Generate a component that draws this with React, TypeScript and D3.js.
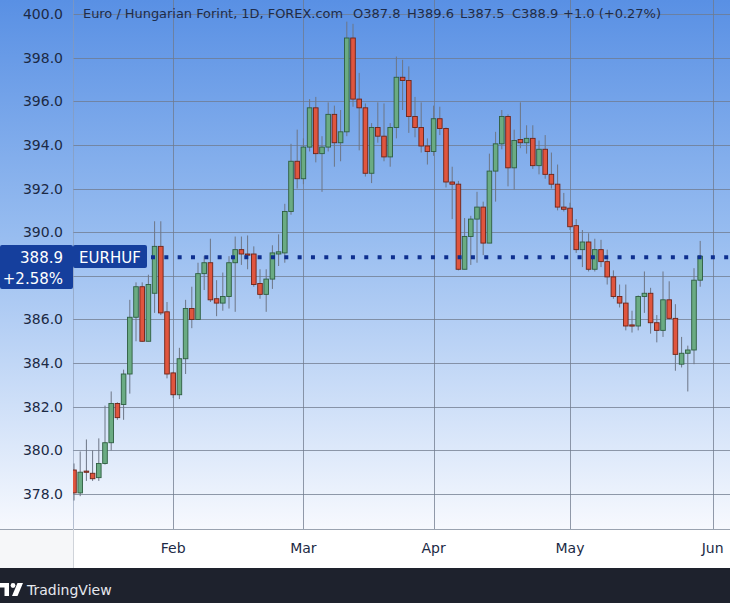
import React, { useEffect } from "react";
import * as d3 from "d3";

const W = 730;
const H = 603;

// OHLC per daily candle (EUR/HUF, mid-Jan .. end of May)
const opens = [379.1,378.05,379.05,378.95,378.75,379.4,380.35,382.15,382.1,383.5,386.1,387.5,385.0,387.2,389.35,386.35,383.55,382.55,384.2,386.5,386.0,388.1,388.6,386.95,386.75,387.05,388.6,389.2,389.0,389.0,387.65,387.15,387.85,389.0,389.05,390.95,393.25,392.45,393.9,395.7,393.6,393.9,395.4,394.1,394.6,398.9,396.1,395.7,392.7,394.8,394.4,393.45,394.8,397.1,396.95,395.3,394.8,393.95,393.7,395.2,394.75,392.3,392.2,388.3,389.8,390.6,391.15,389.5,392.8,394.05,395.3,392.95,394.25,394.1,394.3,393.05,393.8,392.65,392.2,391.15,391.1,390.3,389.2,389.55,388.3,389.2,388.65,387.95,387.05,386.75,385.75,385.7,387.05,387.2,385.85,385.5,386.9,386.05,383.95,384.45,384.6,387.8];
const highs = [379.4,379.95,380.5,380.0,380.55,382.05,382.7,382.2,383.7,386.9,387.7,387.7,388.05,390.5,390.5,386.8,383.6,384.7,386.9,387.5,388.6,388.9,389.7,387.8,388.15,388.9,389.8,389.8,389.85,389.35,388.3,388.3,389.4,389.9,391.3,394.05,394.7,394.3,396.1,396.2,394.4,395.95,395.8,395.6,399.65,399.55,397.3,395.9,395.0,395.95,395.9,395.0,398.05,397.9,397.6,396.2,395.95,394.3,395.8,395.75,394.8,393.0,392.35,390.65,390.75,391.85,391.4,393.6,394.6,395.6,395.4,394.7,395.95,394.9,394.9,394.2,394.45,393.65,393.1,391.8,391.35,390.6,390.1,389.95,389.7,389.65,389.2,388.25,387.6,387.6,386.4,387.1,388.2,387.45,386.2,388.2,387.75,386.7,385.2,384.8,388.35,389.6];
const lows = [377.7,377.9,378.6,378.6,378.6,379.35,380.0,381.4,381.4,382.6,385.0,384.97,385.0,386.3,386.2,383.3,382.4,382.35,383.5,385.6,386.0,387.35,386.8,386.15,386.4,386.5,386.35,388.5,388.3,387.5,386.95,386.35,387.4,388.45,388.6,390.8,392.0,392.2,393.7,393.2,391.85,393.7,393.0,393.25,394.4,395.75,393.75,392.55,392.25,394.1,393.25,393.0,394.3,395.6,394.55,394.35,393.65,393.1,393.5,394.45,392.05,390.6,388.25,388.3,388.5,388.6,388.95,389.5,391.4,393.8,392.1,391.95,393.85,393.6,392.9,392.65,392.45,392.0,391.0,390.95,390.1,389.05,388.4,388.2,388.2,388.4,387.6,386.95,386.55,385.5,385.4,385.5,386.3,385.35,384.95,385.2,386.0,383.65,383.8,382.7,383.95,387.5];
const closes = [378.05,379.0,379.0,378.7,379.4,380.35,382.15,381.5,383.5,386.1,387.5,385.0,387.6,389.35,386.3,383.5,382.55,384.2,386.5,386.0,388.1,388.6,386.9,386.75,387.05,388.6,389.2,389.0,388.95,387.6,387.15,387.85,389.05,389.1,390.95,393.25,392.45,393.9,395.7,393.6,393.9,395.4,394.1,394.6,398.9,396.1,395.7,392.7,394.8,394.4,393.45,394.8,397.1,396.95,395.3,394.8,393.95,393.7,395.2,394.75,392.3,392.2,388.3,389.8,390.6,391.15,389.5,392.8,394.05,395.3,392.95,394.2,394.1,394.3,393.05,393.8,392.65,392.2,391.15,391.05,390.25,389.2,389.55,388.3,389.2,388.65,387.95,387.05,386.75,385.7,385.7,387.05,387.2,385.85,385.5,386.9,386.05,384.4,384.45,384.6,387.8,388.9];

const priceTicks = d3.range(378, 400.001, 2);
const monthLabels = ["Feb", "Mar", "Apr", "May", "Jun"];
const monthIndex = [16, 37, 58, 80, 103];

const lastPrice = 388.9;
const symbol = "EURHUF";
const changePct = "+2.58%";
const titleMain = "Euro / Hungarian Forint, 1D, FOREX.com";
const titleParts = ["O387.8", "H389.6", "L387.5", "C388.9", "+1.0 (+0.27%)"];

const PLOT_L = 73;
const PLOT_B = 529;

export default function App() {
  useEffect(() => {
    document.body.style.margin = "0";
  }, []);

  const x = d3.scaleLinear().domain([0, 101]).range([74, 700.2]);
  const y = d3.scaleLinear().domain([378, 400]).range([494, 14]);

  const bw = 4.6;
  const fontUI = "'DejaVu Sans', Verdana, sans-serif";
  const titleX = [353, 407, 460, 512, 563];

  const candles = opens.map((o, i) => ({
    i,
    o,
    h: highs[i],
    l: lows[i],
    c: closes[i],
  }));

  const lastY = y(lastPrice) + 1;
  const boxTop = 245;
  const boxBot = 289;
  // tick labels hidden behind the last-price box are not drawn
  const visibleTicks = priceTicks.filter((p) => {
    const yy = y(p);
    return yy < boxTop - 6 || yy > boxBot + 6;
  });

  return (
    <svg
      width={W}
      height={H}
      style={{ position: "absolute", left: 0, top: 0, display: "block" }}
    >
      <defs>
        <linearGradient id="bg" x1="0" y1="0" x2="0" y2="1">
          <stop offset="0" stopColor="#5990e4" />
          <stop offset="0.45" stopColor="#98bdf0" />
          <stop offset="1" stopColor="#f7f9fe" />
        </linearGradient>
        <clipPath id="plotClip">
          <rect x={PLOT_L} y={0} width={W - PLOT_L} height={PLOT_B} />
        </clipPath>
      </defs>

      <rect x={0} y={0} width={W} height={PLOT_B} fill="url(#bg)" />

      {/* horizontal grid */}
      {priceTicks.map((p) => (
        <line
          key={"h" + p}
          x1={PLOT_L}
          x2={W}
          y1={Math.round(y(p)) + 0.5}
          y2={Math.round(y(p)) + 0.5}
          stroke="#6f7a8c"
          strokeOpacity={0.75}
          strokeWidth={1}
        />
      ))}
      {/* vertical grid */}
      {monthIndex.map((mi, k) => (
        <line
          key={"v" + k}
          x1={Math.round(x(mi)) + 0.5}
          x2={Math.round(x(mi)) + 0.5}
          y1={0}
          y2={PLOT_B}
          stroke="#6f7a8c"
          strokeOpacity={0.75}
          strokeWidth={1}
        />
      ))}
      <line x1={PLOT_L + 0.5} x2={PLOT_L + 0.5} y1={0} y2={H - 35} stroke="#8a99b3" strokeOpacity={0.6} />

      {/* price axis labels */}
      {visibleTicks.map((p) => (
        <text
          key={"t" + p}
          x={63}
          y={y(p) + 5}
          textAnchor="end"
          fontFamily={fontUI}
          fontSize={14}
          fill="#1c2a45"
        >
          {p.toFixed(1)}
        </text>
      ))}

      {/* candles */}
      <g clipPath="url(#plotClip)">
        {candles.map((d) => {
          const up = d.c >= d.o;
          const cx = x(d.i);
          const top = y(Math.max(d.o, d.c));
          const bot = y(Math.min(d.o, d.c));
          return (
            <g key={"c" + d.i}>
              <line
                x1={cx}
                x2={cx}
                y1={y(d.h)}
                y2={y(d.l)}
                stroke="#6d7686"
                strokeWidth={1}
              />
              <rect
                x={cx - bw / 2}
                y={top}
                width={bw}
                height={Math.max(1.2, bot - top)}
                fill={up ? "#6aab83" : "#e0553e"}
                stroke={up ? "#2e5e40" : "#6e2418"}
                strokeWidth={0.9}
              />
            </g>
          );
        })}
      </g>

      {/* last price dotted line */}
      <line
        x1={151}
        x2={W}
        y1={lastY}
        y2={lastY}
        stroke="#0e2f8f"
        strokeWidth={4}
        strokeDasharray="4 9.33"
      />

      {/* last price box */}
      <rect x={0} y={boxTop} width={73} height={boxBot - boxTop} fill="#153f9d" rx={2} />
      <text x={63} y={263} textAnchor="end" fontFamily={fontUI} fontSize={15} fill="#ffffff">
        {lastPrice.toFixed(1)}
      </text>
      <text x={63} y={284} textAnchor="end" fontFamily={fontUI} fontSize={15} fill="#ffffff">
        {changePct}
      </text>
      <rect x={73} y={boxTop} width={74} height={23} fill="#153f9d" rx={2} />
      <text x={110} y={262.5} textAnchor="middle" fontFamily={fontUI} fontSize={15} fill="#ffffff">
        {symbol}
      </text>

      {/* title */}
      <text
        x={83}
        y={18}
        fontFamily={fontUI}
        fontSize={13}
        fill="#1d2c4a"
        textLength={260}
        lengthAdjust="spacingAndGlyphs"
      >
        {titleMain}
      </text>
      {titleParts.map((t, k) => (
        <text
          key={"tp" + k}
          x={titleX[k]}
          y={18}
          fontFamily={fontUI}
          fontSize={13}
          fill="#1d2c4a"
        >
          {t}
        </text>
      ))}

      {/* x axis band */}
      <rect x={0} y={PLOT_B} width={W} height={H - 35 - PLOT_B} fill="#ffffff" />
      <rect x={0} y={PLOT_B} width={PLOT_L} height={H - 35 - PLOT_B} fill="#f6f7f9" />
      <line x1={0} x2={W} y1={PLOT_B + 0.5} y2={PLOT_B + 0.5} stroke="#9aa3b0" />
      <line x1={PLOT_L + 0.5} x2={PLOT_L + 0.5} y1={PLOT_B} y2={H - 35} stroke="#d0d4da" />
      {monthIndex.map((mi, k) => (
        <text
          key={"m" + k}
          x={x(mi)}
          y={553}
          textAnchor="middle"
          fontFamily={fontUI}
          fontSize={14}
          fill="#1c2a45"
        >
          {monthLabels[k]}
        </text>
      ))}

      {/* footer */}
      <rect x={0} y={H - 35} width={W} height={35} fill="#1e222d" />
      <g fill="#ffffff">
        <path d="M0,583 H9 V596 H4.5 V587.5 H0 Z" />
        <circle cx={13} cy={585.5} r={2.4} />
        <path d="M17.5,583 H23 L17.5,596 H12 Z" />
      </g>
      <text x={27} y={595} fontFamily={fontUI} fontSize={14} fill="#e6e8ee">
        TradingView
      </text>
    </svg>
  );
}
